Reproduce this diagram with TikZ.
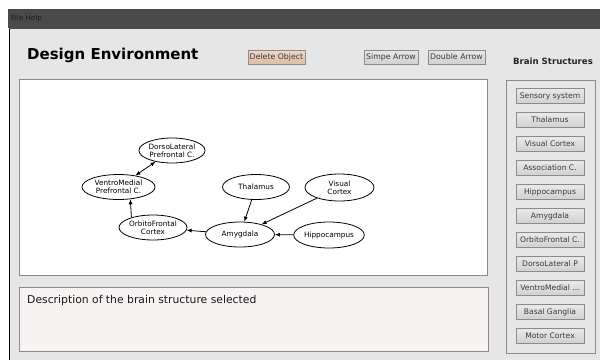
\documentclass[tikz,border=0pt]{standalone}
\usepackage{fontspec}
\setmainfont{DejaVu Sans}
\usetikzlibrary{shapes.geometric,arrows.meta}
\definecolor{bg}{HTML}{E6E6E6}
\definecolor{bar}{HTML}{4A4A4A}
\definecolor{menutext}{HTML}{1E1E1E}
\definecolor{frameline}{HTML}{8A8A8A}
\definecolor{descfill}{HTML}{F6F3F2}
\definecolor{btntop}{HTML}{E9E9E9}
\definecolor{btnbot}{HTML}{D0D0D0}
\definecolor{deltop}{HTML}{EFD8C8}
\definecolor{delbot}{HTML}{DDBDA4}
\definecolor{btntext}{HTML}{3A3A3A}
\tikzset{
  uibtn/.style={draw=frameline, top color=btntop, bottom color=btnbot, line width=0.6pt,
    minimum width=68pt, minimum height=15pt, inner sep=0pt, text=btntext,
    font=\fontsize{7.6}{8}\selectfont},
  topbtn/.style={uibtn, minimum height=14pt, font=\fontsize{7.8}{8}\selectfont},
  brain/.style={draw, ellipse, line width=0.8pt, inner sep=0pt, align=center,
    minimum height=25pt, font=\fontsize{7.3}{8}\selectfont},
  arr/.style={line width=0.8pt, -{Latex[length=5pt,width=4pt]}},
  darr/.style={line width=0.8pt, {Latex[length=5pt,width=4pt]}-{Latex[length=5pt,width=4pt]}},
}
\begin{document}
\begin{tikzpicture}[x=1pt,y=-1pt]
\useasboundingbox (0,0) rectangle (600,360);
% window background
\fill[white] (0,0) rectangle (600,360);
\fill[bar] (8,9) rectangle (600,28);
\fill[bg] (10,28) rectangle (600,360);
\draw[black, line width=1.2pt] (9.4,28) -- (9.4,360);
\draw[black!70, line width=0.8pt] (9,28) -- (600,28);
\node[anchor=west, text=menutext, font=\fontsize{7.2}{8}\selectfont, inner sep=0pt] (menu) at (11,18.5) {File Help};
% title
\node[anchor=base west, inner sep=0pt, font=\fontsize{15}{16}\selectfont\bfseries] (title) at (27,59.5) {Design Environment};
% top buttons
\node[topbtn, top color=deltop, bottom color=delbot, minimum width=57pt] (del) at (276.5,57) {Delete Object};
\node[topbtn, minimum width=54pt] (simple) at (391,57) {Simpe Arrow};
\node[topbtn, minimum width=57pt] (double) at (456.5,57) {Double Arrow};
\node[font=\fontsize{8.6}{9}\selectfont\bfseries, text=black!85, inner sep=0pt] (bstitle) at (553,61.5) {Brain Structures};
% canvas
\draw[frameline, fill=white, line width=0.8pt] (19,79) rectangle (487,275);
% description box
\draw[frameline, fill=descfill, line width=0.8pt] (19,287) rectangle (488,351);
\node[anchor=west, inner sep=0pt, font=\fontsize{10.8}{12}\selectfont, text=black!90] (desc) at (27,300.5) {Description of the brain structure selected};
% right panel
\draw[frameline, line width=0.8pt] (506,80) rectangle (595,353);
\node[uibtn] (b1) at (550,96) {Sensory system};
\node[uibtn] (b2) at (550,120) {Thalamus};
\node[uibtn] (b3) at (550,144) {Visual Cortex};
\node[uibtn] (b4) at (550,168) {Association C.};
\node[uibtn] (b5) at (550,192) {Hippocampus};
\node[uibtn] (b6) at (550,216) {Amygdala};
\node[uibtn] (b7) at (550,240) {OrbitoFrontal C.};
\node[uibtn] (b8) at (550,264) {DorsoLateral P};
\node[uibtn] (b9) at (550,288) {VentroMedial ...};
\node[uibtn] (b10) at (550,312) {Basal Ganglia};
\node[uibtn] (b11) at (550,336) {Motor Cortex};
% graph
\node[brain, minimum width=58pt] (dl) at (172,150.5) {DorsoLateral\\Prefrontal C.};
\node[brain, minimum width=73pt] (vm) at (118.5,187) {VentroMedial\\Prefrontal C.};
\node[brain, minimum width=68pt] (of) at (153,227.5) {OrbitoFrontal\\Cortex};
\node[brain, minimum width=69pt] (amy) at (240,234.5) {Amygdala};
\node[brain, minimum width=67pt] (thal) at (256,187) {Thalamus};
\node[brain, minimum width=69pt, minimum height=27pt] (vis) at (339.5,187.5) {Visual\\Cortex};
\node[brain, minimum width=68pt, minimum height=26pt] (hip) at (329,235) {Hippocampus};
\draw[darr] (vm) -- (dl);
\draw[arr] (of.155) -- (vm.-46);
\draw[arr] (amy) -- (of);
\draw[arr] (thal) -- (amy);
\draw[arr] (vis) -- (amy);
\draw[arr] (hip) -- (amy);
\end{tikzpicture}
\end{document}
